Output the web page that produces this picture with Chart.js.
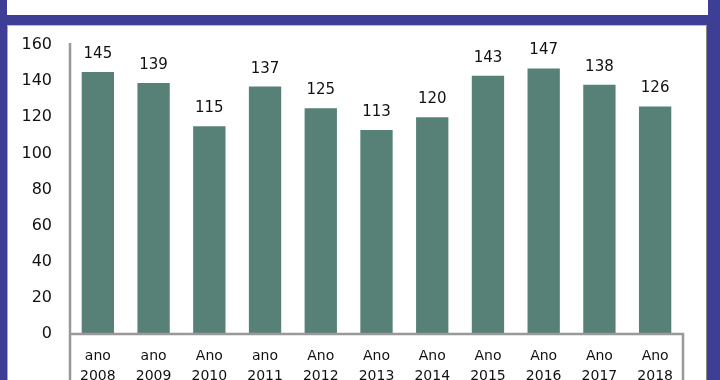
<!DOCTYPE html>
<html>
<head>
  <title>Ano 2008 - 2018</title>
  <script src="https://cdn.jsdelivr.net/npm/chart.js"></script>
  <style>
    html, body { margin: 0; padding: 0; }
    body {
      width: 720px; height: 380px; overflow: hidden;
      background: #3d3e95; position: relative;
    }
    #topBox {
      position: absolute; left: 7px; top: 0; width: 701px; height: 15px;
      background: #fff;
    }
    #panel {
      position: absolute; left: 7px; top: 25px; width: 698px; height: 360px;
      background: #fff; border-left: 1px solid #aaa; border-right: 1px solid #888;
      border-top: 1px solid #bbb;
    }
    #anoChart {
      position: absolute; left: 0; top: 0;
    }
  </style>
</head>
<body>
<div id="topBox"></div>
<div id="panel"></div>
<canvas id="anoChart" width="720" height="380"></canvas>

<script>
  // dados
  const categorias = [
    ['ano', '2008'], ['ano', '2009'], ['Ano', '2010'], ['ano', '2011'],
    ['Ano', '2012'], ['Ano', '2013'], ['Ano', '2014'], ['Ano', '2015'],
    ['Ano', '2016'], ['Ano', '2017'], ['Ano', '2018']
  ];
  const valores = [145, 139, 115, 137, 125, 113, 120, 143, 147, 138, 126];
  const yMax = 160;
  const yPasso = 20;

  const fonte = "'DejaVu Sans', sans-serif";

  // moldura cinza: eixo y, linha do zero e caixa das categorias
  const moldura = {
    id: 'moldura',
    afterDraw(chart) {
      const c = chart.ctx;
      const a = chart.chartArea;
      c.save();
      c.strokeStyle = '#999';
      c.lineWidth = 2.5;
      c.beginPath();
      c.moveTo(a.left, a.top - 2);
      c.lineTo(a.left, chart.height);
      c.moveTo(a.left, a.bottom);
      c.lineTo(a.right, a.bottom);
      c.lineTo(a.right, chart.height);
      c.stroke();

      // rótulos de valor acima das barras
      const meta = chart.getDatasetMeta(0);
      c.fillStyle = '#111';
      c.font = '15px ' + fonte;
      c.textAlign = 'center';
      c.textBaseline = 'alphabetic';
      meta.data.forEach((bar, i) => {
        c.fillText(valores[i], bar.x, bar.y - 14);
      });
      c.restore();
    }
  };

  new Chart(document.getElementById('anoChart'), {
    type: 'bar',
    data: {
      labels: categorias,
      datasets: [{
        data: valores,
        backgroundColor: '#578176',
        categoryPercentage: 1,
        barPercentage: 0.58
      }]
    },
    options: {
      responsive: false,
      animation: false,
      devicePixelRatio: 1,
      layout: { padding: { top: 45, right: 37, left: 0, bottom: 0 } },
      plugins: { legend: { display: false }, tooltip: { enabled: false } },
      scales: {
        x: {
          grid: { display: false, drawTicks: false },
          border: { display: false },
          ticks: {
            color: '#111',
            font: { family: fonte, size: 14, lineHeight: 1.4 },
            padding: 13,
            maxRotation: 0,
            autoSkip: false
          },
          afterFit(axis) { axis.height = 46; }
        },
        y: {
          min: 0,
          max: yMax,
          grid: { display: false, drawTicks: false },
          border: { display: false },
          ticks: {
            stepSize: yPasso,
            color: '#111',
            font: { family: fonte, size: 16 },
            padding: 18
          },
          afterFit(axis) { axis.width = 70; }
        }
      }
    },
    plugins: [moldura]
  });
</script>
</body>
</html>
